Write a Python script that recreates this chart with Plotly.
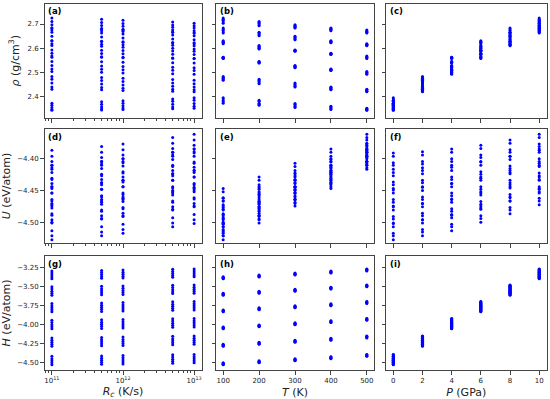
import plotly.graph_objects as go
from plotly.subplots import make_subplots

# ---------------- data ----------------
Rc_values = [1e11, 5e11, 1e12, 5e12, 1e13]   # cooling rate (K/s)
T_values = [100, 200, 300, 400, 500]          # temperature (K)
P_values = [0, 2, 4, 6, 8, 10]                # pressure (GPa)

# density (g/cm^3); one row per T, entries per Rc
rho_P0 = [[2.372, 2.378, 2.382, 2.390, 2.395], [2.364, 2.368, 2.372, 2.380, 2.384],
          [2.354, 2.358, 2.362, 2.368, 2.371], [2.346, 2.349, 2.352, 2.357, 2.360],
          [2.343, 2.344, 2.346, 2.349, 2.351]]
rho_P2 = [[2.483, 2.479, 2.476, 2.470, 2.467], [2.471, 2.466, 2.462, 2.456, 2.453],
          [2.456, 2.452, 2.448, 2.442, 2.439], [2.439, 2.437, 2.434, 2.430, 2.428],
          [2.430, 2.428, 2.425, 2.422, 2.420]]
rho_P4 = [[2.563, 2.562, 2.560, 2.558, 2.557], [2.545, 2.544, 2.542, 2.540, 2.539],
          [2.528, 2.526, 2.524, 2.521, 2.519], [2.514, 2.513, 2.511, 2.509, 2.508],
          [2.503, 2.500, 2.497, 2.494, 2.492]]
rho_P6 = [[2.631, 2.628, 2.625, 2.621, 2.618], [2.611, 2.608, 2.604, 2.600, 2.597],
          [2.592, 2.591, 2.590, 2.588, 2.587], [2.579, 2.578, 2.577, 2.575, 2.574],
          [2.568, 2.565, 2.562, 2.559, 2.557]]
rho_P8 = [[2.684, 2.679, 2.674, 2.667, 2.663], [2.666, 2.663, 2.659, 2.655, 2.652],
          [2.649, 2.646, 2.642, 2.638, 2.635], [2.631, 2.629, 2.627, 2.624, 2.622],
          [2.618, 2.616, 2.614, 2.612, 2.610]]
rho_P10 = [[2.725, 2.720, 2.716, 2.708, 2.703], [2.711, 2.706, 2.702, 2.696, 2.693],
           [2.697, 2.694, 2.691, 2.687, 2.684], [2.684, 2.681, 2.678, 2.675, 2.672],
           [2.675, 2.672, 2.669, 2.666, 2.663]]

# internal energy (eV/atom)
U_P0 = [[-4.526, -4.520, -4.516, -4.506, -4.501], [-4.500, -4.494, -4.490, -4.480, -4.475],
        [-4.474, -4.468, -4.464, -4.454, -4.449], [-4.447, -4.441, -4.437, -4.427, -4.422],
        [-4.417, -4.411, -4.407, -4.397, -4.392]]
U_P2 = [[-4.520, -4.514, -4.510, -4.500, -4.495], [-4.495, -4.489, -4.485, -4.475, -4.470],
        [-4.470, -4.464, -4.460, -4.450, -4.445], [-4.444, -4.438, -4.434, -4.424, -4.419],
        [-4.415, -4.409, -4.405, -4.395, -4.390]]
U_P4 = [[-4.512, -4.506, -4.502, -4.492, -4.487], [-4.488, -4.482, -4.478, -4.468, -4.463],
        [-4.464, -4.458, -4.454, -4.444, -4.439], [-4.439, -4.433, -4.429, -4.419, -4.414],
        [-4.411, -4.405, -4.401, -4.391, -4.386]]
U_P6 = [[-4.499, -4.493, -4.489, -4.479, -4.474], [-4.477, -4.471, -4.467, -4.457, -4.452],
        [-4.454, -4.448, -4.444, -4.434, -4.429], [-4.431, -4.425, -4.421, -4.411, -4.406],
        [-4.405, -4.399, -4.395, -4.385, -4.380]]
U_P8 = [[-4.486, -4.480, -4.476, -4.466, -4.461], [-4.466, -4.460, -4.456, -4.446, -4.441],
        [-4.444, -4.438, -4.434, -4.424, -4.419], [-4.422, -4.416, -4.412, -4.402, -4.397],
        [-4.397, -4.391, -4.387, -4.377, -4.372]]
U_P10 = [[-4.472, -4.466, -4.462, -4.452, -4.447], [-4.454, -4.448, -4.444, -4.434, -4.429],
         [-4.433, -4.427, -4.423, -4.413, -4.408], [-4.411, -4.405, -4.401, -4.391, -4.386],
         [-4.388, -4.382, -4.378, -4.368, -4.363]]

# enthalpy (eV/atom)
H_P0 = [[-4.526, -4.520, -4.516, -4.506, -4.501], [-4.500, -4.494, -4.490, -4.480, -4.475],
        [-4.474, -4.468, -4.464, -4.454, -4.449], [-4.447, -4.441, -4.437, -4.427, -4.422],
        [-4.417, -4.411, -4.407, -4.397, -4.392]]
H_P2 = [[-4.285, -4.279, -4.275, -4.265, -4.260], [-4.258, -4.252, -4.248, -4.238, -4.233],
        [-4.232, -4.226, -4.222, -4.212, -4.207], [-4.205, -4.199, -4.195, -4.185, -4.180],
        [-4.175, -4.169, -4.165, -4.155, -4.150]]
H_P4 = [[-4.057, -4.051, -4.047, -4.037, -4.032], [-4.030, -4.024, -4.020, -4.010, -4.005],
        [-4.003, -3.997, -3.993, -3.983, -3.978], [-3.975, -3.969, -3.965, -3.955, -3.950],
        [-3.945, -3.939, -3.935, -3.925, -3.920]]
H_P6 = [[-3.834, -3.828, -3.824, -3.814, -3.809], [-3.806, -3.800, -3.796, -3.786, -3.781],
        [-3.780, -3.774, -3.770, -3.760, -3.755], [-3.753, -3.747, -3.743, -3.733, -3.728],
        [-3.723, -3.717, -3.713, -3.703, -3.698]]
H_P8 = [[-3.615, -3.609, -3.605, -3.595, -3.590], [-3.590, -3.584, -3.580, -3.570, -3.565],
        [-3.563, -3.557, -3.553, -3.543, -3.538], [-3.536, -3.530, -3.526, -3.516, -3.511],
        [-3.506, -3.500, -3.496, -3.486, -3.481]]
H_P10 = [[-3.399, -3.393, -3.389, -3.379, -3.374], [-3.377, -3.371, -3.367, -3.357, -3.352],
         [-3.351, -3.345, -3.341, -3.331, -3.326], [-3.324, -3.318, -3.314, -3.304, -3.299],
         [-3.297, -3.291, -3.287, -3.277, -3.272]]

rho_by_P = [rho_P0, rho_P2, rho_P4, rho_P6, rho_P8, rho_P10]
U_by_P = [U_P0, U_P2, U_P4, U_P6, U_P8, U_P10]
H_by_P = [H_P0, H_P2, H_P4, H_P6, H_P8, H_P10]

panel_labels = ["(a)", "(b)", "(c)", "(d)", "(e)", "(f)", "(g)", "(h)", "(i)"]
x_titles = ["<i>R</i><sub><i>c</i></sub> (K/s)", "<i>T</i> (K)", "<i>P</i> (GPa)"]
y_titles = ["<i>ρ</i> (g/cm<sup>3</sup>)", "<i>U</i> (eV/atom)", "<i>H</i> (eV/atom)"]

# ---------------- flatten ----------------
xs = {"Rc": [], "T": [], "P": []}
ys = {"rho": [], "U": [], "H": []}
for pi, P in enumerate(P_values):
    for ti, T in enumerate(T_values):
        for ri, Rc in enumerate(Rc_values):
            xs["Rc"].append(Rc)
            xs["T"].append(T)
            xs["P"].append(P)
            ys["rho"].append(rho_by_P[pi][ti][ri])
            ys["U"].append(U_by_P[pi][ti][ri])
            ys["H"].append(H_by_P[pi][ti][ri])

x_keys = ["Rc", "T", "P"]
y_keys = ["rho", "U", "H"]

W, Hh = 550, 399
fig = make_subplots(rows=3, cols=3)

for r in range(3):
    for c in range(3):
        fig.add_trace(go.Scatter(
            x=xs[x_keys[c]], y=ys[y_keys[r]], mode="markers",
            marker=dict(color="#0000ff", size=3.0, line=dict(width=0)),
            showlegend=False, hoverinfo="x+y"), row=r + 1, col=c + 1)

# panel geometry (pixels)
col_px = [(44.5, 201.5), (216, 374), (386, 546.5)]
row_px = [(3.5, 118), (129, 243), (256, 370)]

x_ranges = [[10.896, 13.104], [80, 520], [-0.5, 10.5]]
y_ranges = [[2.311, 2.785], [-4.531, -4.355], [-4.596, -3.102]]
y_ticks = [[2.4, 2.5, 2.6, 2.7], [-4.50, -4.45, -4.40],
           [-4.50, -4.25, -4.00, -3.75, -3.50, -3.25]]
y_fmt = [".1f", ".2f", ".2f"]

font_family = "DejaVu Sans"
axis_col = "#444444"
tick_font = dict(family=font_family, size=7, color="#222222")
title_font = dict(family=font_family, size=11, color="#222222")

for r in range(3):
    for c in range(3):
        idx = r * 3 + c + 1
        xa = "xaxis" if idx == 1 else f"xaxis{idx}"
        ya = "yaxis" if idx == 1 else f"yaxis{idx}"
        x0, x1 = col_px[c]
        y0, y1 = row_px[r]
        xd = dict(domain=[x0 / W, x1 / W], showline=True, mirror=True,
                  linecolor=axis_col, linewidth=1, ticks="outside", ticklen=3.5,
                  tickwidth=1, tickcolor=axis_col, showgrid=False, zeroline=False,
                  tickfont=tick_font, showticklabels=(r == 2))
        if c == 0:
            xd.update(type="log", range=x_ranges[0], tickvals=[1e11, 1e12, 1e13],
                      ticktext=["10<sup>11</sup>", "10<sup>12</sup>", "10<sup>13</sup>"],
                      minor=dict(ticks="outside", ticklen=2, tickcolor=axis_col,
                                 tickwidth=0.8, dtick="D1", showgrid=False))
        elif c == 1:
            xd.update(range=x_ranges[1], tickvals=T_values)
        else:
            xd.update(range=x_ranges[2], tickvals=P_values)
        if r == 2:
            xd.update(title=dict(text=x_titles[c], font=title_font, standoff=4))
        yd = dict(domain=[1 - y1 / Hh, 1 - y0 / Hh], showline=True, mirror=True,
                  linecolor=axis_col, linewidth=1, ticks="outside", ticklen=3.5,
                  tickwidth=1, tickcolor=axis_col, showgrid=False, zeroline=False,
                  range=y_ranges[r], tickvals=y_ticks[r], tickformat=y_fmt[r],
                  tickfont=tick_font, showticklabels=(c == 0))
        if c == 0:
            yd.update(title=dict(text=y_titles[r], font=title_font, standoff=5))
        fig.layout[xa].update(xd)
        fig.layout[ya].update(yd)
        fig.add_annotation(
            text="<b>" + panel_labels[idx - 1] + "</b>",
            xref=("x" if idx == 1 else f"x{idx}") + " domain",
            yref=("y" if idx == 1 else f"y{idx}") + " domain",
            x=0.012, y=0.995, xanchor="left", yanchor="top", showarrow=False,
            font=dict(family=font_family, size=8.5, color="black"))

fig.update_layout(width=W, height=Hh, margin=dict(l=0, r=0, t=0, b=0),
                  paper_bgcolor="white", plot_bgcolor="white",
                  font=dict(family=font_family))

fig.write_html("out.html", config={"displayModeBar": False},
               post_script="document.body.style.margin='0';"
                           "document.body.style.overflow='hidden';")
